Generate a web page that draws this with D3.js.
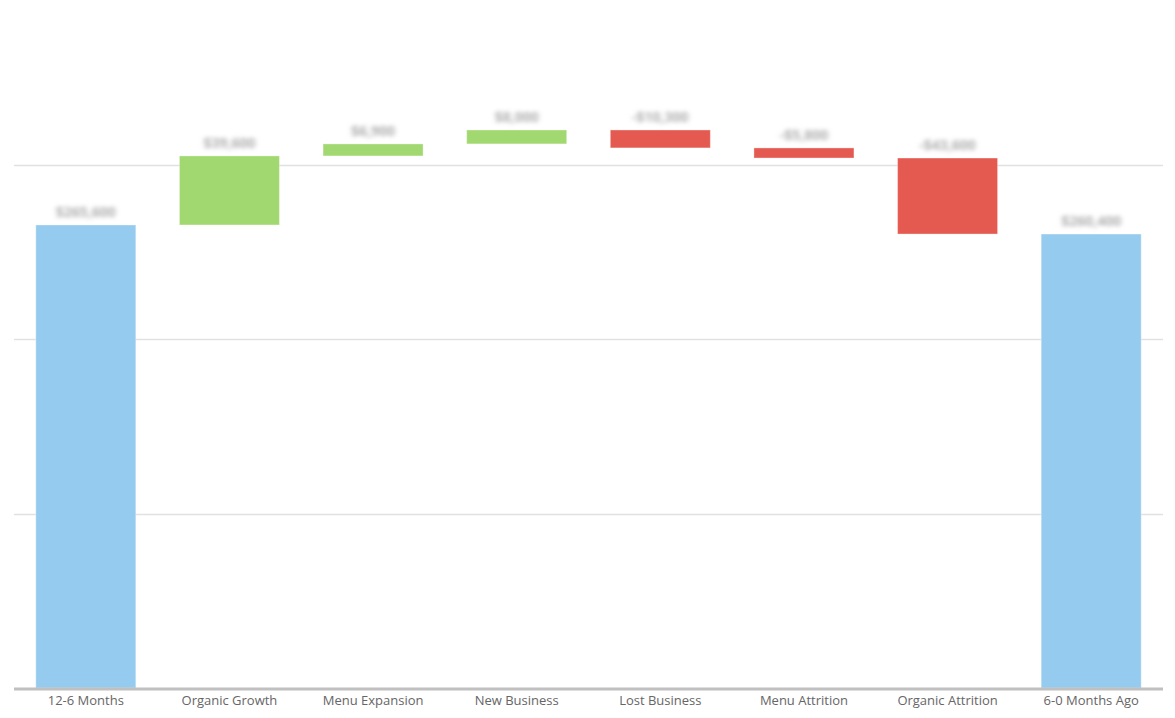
<!DOCTYPE html>
<html>
<head>
<meta charset="utf-8">
<script src="https://cdn.jsdelivr.net/npm/d3@7"></script>
<style>
  html, body { margin: 0; padding: 0; background: #fff; }
  svg { display: block; }
</style>
</head>
<body>
<svg id="chart" width="1175" height="718"></svg>
<script>
// ---- data (values in $) ----
const categories = ["12-6 Months", "Organic Growth", "Menu Expansion", "New Business",
                    "Lost Business", "Menu Attrition", "Organic Attrition", "6-0 Months Ago"];
const changes = [265600, 39600, 6900, 8000, -10300, -5800, -43600, null]; // null = running total
const kinds = ["total", "delta", "delta", "delta", "delta", "delta", "delta", "total"];
const yTicks = [0, 100000, 200000, 300000];

const colors = { total: "#95cbee", up: "#a2d870", down: "#e55a50" };

const svg = d3.select("#chart");
const margin = { left: 14, right: 12 };
const W = 1175;
const baseY = 688;

const x = d3.scaleBand().domain(categories)
  .range([margin.left, W - margin.right])
  .paddingInner(0.3036).paddingOuter(0.1518);
const y = d3.scaleLinear().domain([0, 300000]).range([baseY, 165]);

// compute waterfall segments
let running = 0;
const bars = categories.map((c, i) => {
  let y0, y1, type;
  if (kinds[i] === "total") {
    if (changes[i] !== null) running = changes[i];
    y0 = 0; y1 = running; type = "total";
  } else {
    y0 = running; running += changes[i]; y1 = running;
    type = changes[i] >= 0 ? "up" : "down";
  }
  const val = kinds[i] === "total" ? running : changes[i];
  return { c, y0, y1, type, val };
});

// gridlines
svg.append("g").selectAll("line").data(yTicks.slice(1)).join("line")
  .attr("x1", margin.left).attr("x2", W - margin.right)
  .attr("y1", d => Math.round(y(d)) + 0.5).attr("y2", d => Math.round(y(d)) + 0.5)
  .attr("stroke", "#e1e1e1").attr("stroke-width", 1.5);

// bars
svg.append("g").selectAll("rect").data(bars).join("rect")
  .attr("x", d => x(d.c))
  .attr("width", x.bandwidth())
  .attr("y", d => y(Math.max(d.y0, d.y1)))
  .attr("height", d => Math.abs(y(d.y0) - y(d.y1)))
  .attr("fill", d => colors[d.type])
  .attr("stroke", "#ffffff").attr("stroke-opacity", 0.35).attr("stroke-width", 1);

// blurred value labels
const defs = svg.append("defs");
defs.append("filter").attr("id", "blur")
  .attr("x", "-20%").attr("y", "-50%").attr("width", "140%").attr("height", "200%")
  .append("feGaussianBlur").attr("stdDeviation", "2.6 2.2");

const fmt = v => (v < 0 ? "-$" : "$") + d3.format(",")(Math.abs(v));
svg.append("g").attr("filter", "url(#blur)").selectAll("text").data(bars).join("text")
  .attr("x", d => x(d.c) + x.bandwidth() / 2)
  .attr("y", d => y(Math.max(d.y0, d.y1)) - 8)
  .attr("text-anchor", "middle")
  .attr("font-family", "'Open Sans', sans-serif")
  .attr("font-size", 14).attr("font-weight", "bold")
  .attr("fill", "#b0b0b0")
  .text(d => fmt(d.val));

// x axis
const xAxis = svg.append("g").attr("transform", `translate(0,${baseY})`)
  .call(d3.axisBottom(x).tickSize(0).tickPadding(8));
xAxis.select(".domain").remove();
xAxis.selectAll("text")
  .attr("font-family", "'Open Sans', sans-serif")
  .attr("font-size", 13).attr("fill", "#666666");

svg.append("line")
  .attr("x1", margin.left).attr("x2", W - margin.right)
  .attr("y1", baseY + 1).attr("y2", baseY + 1)
  .attr("stroke", "#c0c0c0").attr("stroke-width", 3);
</script>
</body>
</html>
